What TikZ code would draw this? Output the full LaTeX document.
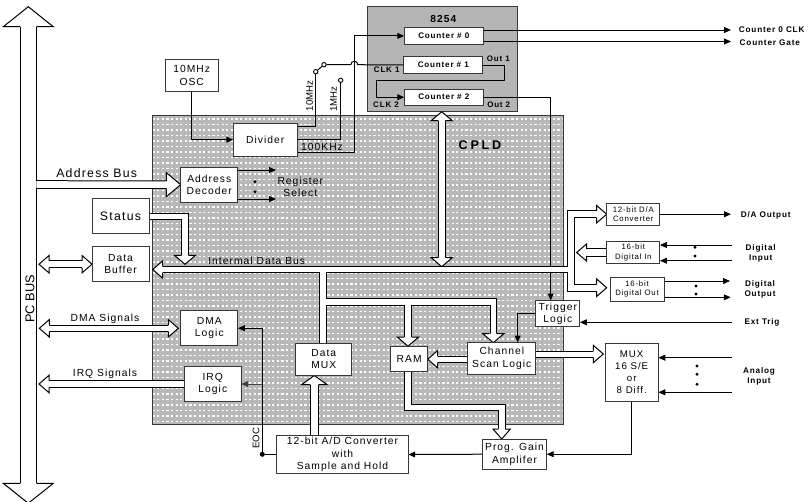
\documentclass[tikz,border=0pt]{standalone}
\usepackage{fontspec}
\setmainfont[LetterSpace=10]{Liberation Sans}
\newfontfamily\plainsans{Liberation Sans}
\newfontfamily\widesans[LetterSpace=22]{Liberation Sans}
\usetikzlibrary{arrows.meta,patterns}
\pgfdeclarelayer{backdrop}
\pgfdeclarelayer{lines}
\pgfsetlayers{backdrop,lines,main}
\newdimen\pxu \pxu=.75pt
\newcommand\DeclBus[4]{% name, length, half wing, half shaft
  \pgfdeclarearrow{name=#1,
    setup code={\pgfarrowssettipend{#2\pxu}\pgfarrowssetbackend{0pt}\pgfarrowssetlineend{.5\pxu}%
      \pgfarrowshullpoint{#2\pxu}{0pt}\pgfarrowsupperhullpoint{0pt}{#3\pxu}},
    drawing code={\pgfsetlinewidth{1\pxu}\pgfsetinnerlinewidth{0pt}\pgfsetmiterjoin\pgfsetbuttcap
      \pgfsetfillcolor{white}%
      \pgfpathmoveto{\pgfpoint{0pt}{#4\pxu}}%
      \pgfpathlineto{\pgfpoint{0pt}{#3\pxu}}%
      \pgfpathlineto{\pgfpoint{#2\pxu}{0pt}}%
      \pgfpathlineto{\pgfpoint{0pt}{-#3\pxu}}%
      \pgfpathlineto{\pgfpoint{0pt}{-#4\pxu}}%
      \pgfusepathqfillstroke},
    parameters={x}}}
\DeclBus{BusS}{10}{8.7}{3.4}
\DeclBus{BusM}{9}{10.5}{3.6}
\DeclBus{BusA}{14.3}{12}{3.8}
\DeclBus{BusD}{9}{12.5}{4.4}
\DeclBus{BusP}{20}{25}{8.4}
\pgfdeclarepatternformonly{cpldweave}{\pgfqpoint{-.1pt}{-.1pt}}{\pgfqpoint{3.6pt}{4.2pt}}{\pgfqpoint{3.45pt}{4.125pt}}{%
  \pgfpathrectangle{\pgfqpoint{.6pt}{1.5pt}}{\pgfqpoint{1.7pt}{.9pt}}\pgfusepath{fill}}
\definecolor{cpldgray}{gray}{.72}
\definecolor{chipgray}{gray}{.71}
\definecolor{edgegray}{gray}{.22}
\newcommand\fs[1]{\fontsize{#1\pxu}{1.22\dimexpr #1\pxu\relax}\selectfont}
\tikzset{
  boxed/.style n args={2}{draw=edgegray,line width=1\pxu,fill=white,inner sep=0pt,outer sep=0pt,align=center,
    minimum width=#1\pxu,minimum height=#2\pxu,font=\fs{10.3}},
  lbl/.style={inner sep=0pt,outer sep=0pt,align=center,font=\fs{10.3}},
  blbl/.style={inner sep=0pt,outer sep=0pt,align=center,font=\fs{8.2}\bfseries},
  rlbl/.style={inner sep=0pt,outer sep=0pt,rotate=90,font=\plainsans\fs{9.6}},
  wire/.style={line width=1\pxu,draw=black},
  wirea/.style={wire,-{Triangle[length=5.2pt,width=4.4pt]}},
  bus/.style={line width=1\pxu,double=white,double distance=#1\pxu,miter limit=10},
  spot/.style={circle,fill=black,inner sep=0pt,minimum size=5\pxu},
  ring/.style={circle,draw=black,fill=white,line width=.9\pxu,inner sep=0pt,minimum size=4.4\pxu},
}
\begin{document}
\begin{tikzpicture}[x=.75pt,y=-.75pt]
\useasboundingbox (0,0) rectangle (811,501);
\clip (0,0) rectangle (811,501);
% backgrounds
\begin{pgfonlayer}{backdrop}
\node[draw=edgegray,fill=cpldgray,line width=1\pxu,inner sep=0pt,outer sep=0pt,minimum width=410.3\pxu,minimum height=308.7\pxu] (cpld) at (357.85,269.65) {};
\fill[pattern=cpldweave,pattern color=white] (153.3,116) rectangle (562.5,423.5);
\node[draw=edgegray,fill=chipgray,line width=1.2\pxu,inner sep=0pt,outer sep=0pt,minimum width=150.4\pxu,minimum height=105\pxu] (chip) at (442.5,59.2) {};
\end{pgfonlayer}
\node[lbl,font=\fs{10.2}\bfseries] (chipname) at (443.3,19.3) {8254};
\node[lbl,font=\fs{12.6}\widesans\bfseries] (cpldname) at (480,145) {CPLD};
% boxes
\node[boxed={53.3}{32.4}] (osc) at (191.7,75.5) {10MHz\\OSC};
\node[boxed={64}{32.7}] (divider) at (265.3,139.7) {Divider};
\node[boxed={57.3}{34.7}] (addr) at (209.3,184.7) {Address\\Decoder};
\node[boxed={57}{34.6},font=\fs{12.3}] (status) at (120.5,216) {Status};
\node[boxed={57}{35}] (buffer) at (120.5,264.2) {Data\\Buffer};
\node[boxed={57.3}{35}] (dma) at (209.3,328.2) {DMA\\Logic};
\node[boxed={57}{34.6}] (irq) at (212.8,384) {IRQ\\Logic};
\node[boxed={55.7}{31.7}] (datamux) at (323.8,359.2) {Data\\MUX};
\node[boxed={37}{25}] (ram) at (409.2,359.2) {RAM};
\node[boxed={68.3}{31.6}] (scan) at (501.8,358.5) {Channel\\Scan Logic};
\node[boxed={44.3}{26}] (trigger) at (557.8,313.7) {Trigger\\Logic};
\node[boxed={131.6}{37.6}] (adc) at (342.5,454.5) {12-bit A/D Converter\\with\\Sample and Hold};
\node[boxed={64.4}{30.3}] (pga) at (514.5,454.2) {Prog. Gain\\Amplifer};
\node[boxed={53.3}{57.7},font=\fs{9.7},align=center] (mux) at (631.7,372.2) {MUX\\16 S/E\\or\\8 Diff.};
\node[boxed={53.3}{21.7},font=\fs{7.8}] (dac) at (633.3,214.2) {12-bit D/A\\Converter};
\node[boxed={53.3}{21.6},font=\fs{7.8}] (din) at (633.3,252.5) {16-bit\\Digital In};
\node[boxed={54}{23.7},font=\fs{7.8}] (dout) at (637,289.2) {16-bit\\Digital Out};
\node[boxed={79}{16.3},font=\fs{8.1}\bfseries] (c0) at (443.8,35.9) {Counter \# 0};
\node[boxed={79.3}{16.6},font=\fs{8.1}\bfseries] (c1) at (443.3,65) {Counter \# 1};
\node[boxed={79}{15.7},font=\fs{8.1}\bfseries] (c2) at (443.8,97.2) {Counter \# 2};
% free ends and switch
\node[ring] (swa) at (315.7,71.7) {};
\node[ring] (swb) at (324,64.7) {};
\node[ring] (swc) at (340.7,80.3) {};
\coordinate (regA) at (276,170);
\coordinate (regB) at (276,199);
\coordinate (ctrclk) at (731,30);
\coordinate (ctrgate) at (731,41.5);
\coordinate (daout) at (731,214.2);
\coordinate (diA) at (731.7,245);
\coordinate (diB) at (731.7,260.7);
\coordinate (doA) at (730,281);
\coordinate (doB) at (730.7,297.3);
\coordinate (ext) at (731.7,322.3);
\coordinate (anA) at (731.7,357.7);
\coordinate (anB) at (731.7,392.3);
\node[spot] (eoc) at (262.3,454.3) {};
\begin{pgfonlayer}{lines}
% thin wires
\draw[wirea] (osc.south) |- (divider.west);
\draw[wire] (divider.east |- 0,126.5) -| (swa.south);
\draw[wire] (swa) -- (swb);
\draw[wire] (divider.east |- 0,139.3) -| (swc.south);
\draw[wirea] (divider.east |- 0,152.7) -| (354.3,35.9) -- (c0.west);
\draw[wire] (swb.east) -- (350.8,64.7) arc[start angle=180,end angle=360,radius=3.5] -- (c1.west);
\draw[wirea] (c0.east |- ctrclk) -- (ctrclk);
\draw[wirea] (c0.east |- ctrgate) -- (ctrgate);
\draw[wirea] (c1.east) -| (504,80) -| (376,97.2) -- (c2.west);
\draw[wirea] (c2.east) -| (550.7,300.5);
\draw[wirea] (trigger.west) -| (517.7,342.5);
\draw[wirea] (addr.east |- regA) -- (regA);
\draw[wirea] (addr.east |- regB) -- (regB);
\draw[wirea] (dac.east) -- (daout);
\draw[wirea] (diA) -- (din.east |- diA);
\draw[wirea] (diB) -- (din.east |- diB);
\draw[wirea] (dout.east |- doA) -- (doA);
\draw[wirea] (dout.east |- doB) -- (doB);
\draw[wirea] (ext) -- (trigger.east |- ext);
\draw[wirea] (anA) -- (mux.east |- anA);
\draw[wirea] (anB) -- (mux.east |- anB);
\draw[wirea] (mux.south) |- (pga.east);
\draw[wirea] (pga.west) -- (adc.east);
\draw[wire] (adc.west |- eoc) -- (eoc);
\draw[wirea] (eoc) -- (262.3,328.2) -- (dma.east);
\draw[wirea,draw=black!75] (262.3,384) -- (irq.east);
% block-arrow buses
\draw[bus=15.6,{BusP}-{BusP}] (28.3,6.7) -- (28.3,503.3);
\draw[bus=6.6,-{BusA}] (36.3,184.5) -- (addr.west);
\draw[bus=5.8,{BusS}-{BusS}] (39,264.2) -- (buffer.west);
\draw[bus=5.4,{BusS}-{BusS}] (39.3,328.3) -- (178.3,328.3);
\draw[bus=5.4,{BusS}-] (39,384) -- (irq.west);
\draw[bus=5.6,-{BusM}] (status.east |- 0,216.5) -| (185,264.3);
\draw[bus=6.3,{BusM}-{BusM}] (441.7,111.7) -- (441.7,266.7);
% internal data bus tree
\draw[bus=5.6] (164,269.5) -- (571,269.5)
  (597,214.2) -- (571,214.2) -- (571,287.7) -- (597,287.7)
  (323,269.5) -- (323,343.5)
  (323,302) -- (493.3,302) -- (493.3,336)
  (408,302) -- (408,339);
\draw[bus=5.6,-{BusS}] (164,269.5) -- (152.7,269.5);
\draw[bus=5.6,-{BusS}] (595,214.2) -- (dac.west);
\draw[bus=5.6,-{BusS}] (595,287.7) -- (606.7,287.7);
\draw[bus=5.6,-{BusM}] (408,335) -- (408,346.2);
\draw[bus=5.6,-{BusM}] (493.3,332) -- (493.3,342.7);
\draw[bus=6.6,-{BusS}] (din.west) -- (576.7,252.5);
\draw[bus=5,-{BusS}] (scan.west |- ram.east) -- (ram.east);
\draw[bus=5,-{BusS}] (scan.east |- 0,354) -- (603.3,354);
\draw[bus=7.4,-{BusD}] (adc.north -| 314.3,0) -- (314.3,375.5);
\draw[bus=5.6,-{BusS}] (ram.south -| 408,0) |- (501.7,407.5) -- (501.7,439);
\end{pgfonlayer}
% dots
\foreach \p in {(255,181.7),(255,191.7),(695,247.3),(695,256),(696,286),(696,294),(697,366),(697,374.3),(697,384.3)} \fill \p circle (1.6);
% labels
\node[lbl,font=\fs{12.3}] (lab1) at (96.7,172.7) {Address Bus};
\node[lbl] (lab2) at (256.7,260.7) {Intermal Data Bus};
\node[lbl] (lab3) at (105,319) {DMA Signals};
\node[lbl] (lab4) at (105,374.3) {IRQ Signals};
\node[lbl] (lab5) at (300.3,187) {Register\\Select};
\node[lbl] (lab6) at (322,147) {100KHz};
\node[rlbl,font=\plainsans\fs{12.8}] (lab7) at (30,299) {PC BUS};
\node[rlbl] (lab8) at (309.5,96) {10MHz};
\node[rlbl] (lab9) at (333.5,99) {1MHz};
\node[rlbl] (lab10) at (256,438) {EOC};
\node[blbl,font=\fs{8}\bfseries] (lab11) at (386.7,70) {CLK 1};
\node[blbl,font=\fs{8}\bfseries] (lab12) at (386,105) {CLK 2};
\node[blbl,font=\fs{8}\bfseries] (lab13) at (498.3,59) {Out 1};
\node[blbl,font=\fs{8}\bfseries] (lab14) at (498.7,105) {Out 2};
\node[blbl] (lab15) at (771.7,30) {Counter 0 CLK};
\node[blbl] (lab16) at (769.8,42.3) {Counter Gate};
\node[blbl] (lab17) at (765.7,215) {D/A Output};
\node[blbl] (lab18) at (760.7,253.3) {Digital\\Input};
\node[blbl] (lab19) at (760,289.2) {Digital\\Output};
\node[blbl] (lab20) at (762,322) {Ext Trig};
\node[blbl] (lab21) at (759,376) {Analog\\Input};
\end{tikzpicture}
\end{document}
